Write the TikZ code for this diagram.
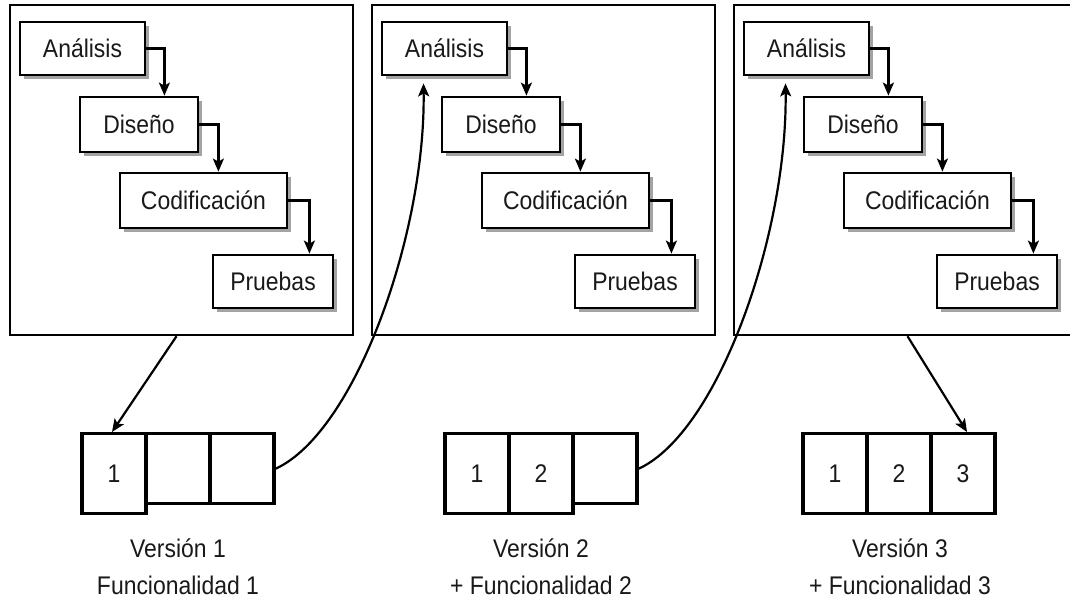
\documentclass[tikz,border=0pt]{standalone}
\usepackage{fontspec}
\setmainfont{Liberation Sans}[FakeStretch=0.9]
\usetikzlibrary{shadows,arrows.meta,calc}
\begin{document}
\begin{tikzpicture}[x=1pt,y=-1pt,
  txt/.style={font=\fontsize{25.5}{28}\selectfont, text=black!90},
  panel/.style={draw, line width=2.4pt, minimum width=343pt, minimum height=330pt, inner sep=0pt},
  stagebox/.style={draw, line width=2.8pt, fill=white, inner sep=0pt, txt,
    drop shadow={shadow xshift=3.5pt,shadow yshift=-4pt,fill=black!45,opacity=0.8}},
  flow/.style={line width=2.2pt, -{Stealth[length=13pt,width=11pt,inset=3pt]}},
  cell/.style={draw, line width=3.4pt, inner sep=0pt, minimum width=64pt, anchor=north, fill=white, txt},
  fullcell/.style={cell, minimum height=80pt},
  emptycell/.style={cell, minimum height=70pt}
]
\fill[white] (0,0) rectangle (1070,600);
\useasboundingbox (0,0) rectangle (1070,600);

\foreach \i/\dx in {1/0,2/362,3/724}{
  \node[panel] (P\i) at (181.5+\dx,170) {};
  \node[stagebox, minimum width=125pt, minimum height=53pt] (A\i) at (82.5+\dx,48.5) {Análisis};
  \node[stagebox, minimum width=118pt, minimum height=55pt] (D\i) at (139+\dx,124.5) {Diseño};
  \node[stagebox, minimum width=167pt, minimum height=55pt] (C\i) at (203.5+\dx,200.5) {Codificación};
  \node[stagebox, minimum width=120pt, minimum height=53pt] (R\i) at (273+\dx,281.5) {Pruebas};
  \path (A\i.east) ++(18,0) coordinate (kA\i);
  \path (D\i.east) ++(19,0) coordinate (kD\i);
  \path (C\i.east) ++(21,0) coordinate (kC\i);
  \draw[flow] (A\i.east) -| (kA\i |- D\i.north);
  \draw[flow] (D\i.east) -| (kD\i |- C\i.north);
  \draw[flow] (C\i.east) -| (kC\i |- R\i.north);
}

% Version 1
\node[fullcell]  (c11) at (114,432) {1};
\node[emptycell] (c12) at (178,432) {};
\node[emptycell] (c13) at (242,432) {};
% Version 2
\node[fullcell]  (c21) at (477,432) {1};
\node[fullcell]  (c22) at (541,432) {2};
\node[emptycell] (c23) at (605,432) {};
% Version 3
\node[fullcell]  (c31) at (835,432) {1};
\node[fullcell]  (c32) at (899,432) {2};
\node[fullcell]  (c33) at (963,432) {3};

\node[txt] (v1) at (178,548) {Versión 1};
\node[txt] (f1) at (178,585) {Funcionalidad 1};
\node[txt] (v2) at (541,548) {Versión 2};
\node[txt] (f2) at (541,585) {+ Funcionalidad 2};
\node[txt] (v3) at (900,548) {Versión 3};
\node[txt] (f3) at (900,585) {+ Funcionalidad 3};

% connectors
\draw[flow] ([xshift=-5pt]P1.south) -- ([xshift=-2pt]c11.north);
\draw[flow] ([xshift=2pt]P3.south) -- ([xshift=4pt]c33.north);
\coordinate (t2) at ($(A2.south)+(-21,7)$);
\coordinate (t3) at ($(A3.south)+(-21,7)$);
\draw[flow] (c13.east) .. controls +(80,-37) and +(2,150) .. (t2);
\draw[flow] (c23.east) .. controls +(80,-37) and +(2,150) .. (t3);
\end{tikzpicture}
\end{document}
